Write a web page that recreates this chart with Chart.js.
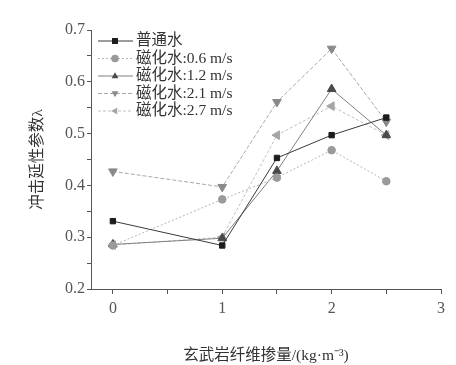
<!DOCTYPE html>
<html>
<head>
<meta charset="utf-8">
<script src="https://cdn.jsdelivr.net/npm/chart.js@4/dist/chart.umd.min.js"></script>
<style>
  html, body { margin: 0; padding: 0; background: #fff; }
  #box { width: 456px; height: 365px; }
</style>
</head>
<body>
<div id="box"><canvas id="chart" width="456" height="365"></canvas></div>
<script>
// dosage of basalt fibre (kg/m3)
const dosage = [0, 1, 1.5, 2, 2.5];
const seriesNames = ["普通水", "磁化水:0.6 m/s", "磁化水:1.2 m/s", "磁化水:2.1 m/s", "磁化水:2.7 m/s"];
const plainWater = [0.331, 0.284, 0.453, 0.497, 0.531];
const mag06 = [0.284, 0.373, 0.415, 0.468, 0.408];
const mag12 = [0.286, 0.298, 0.428, 0.586, 0.497];
const mag21 = [0.427, 0.397, 0.561, 0.664, 0.523];
const mag27 = [0.285, 0.300, 0.497, 0.553, 0.497];
const xTicks = [0, 0.5, 1, 1.5, 2, 2.5, 3];
const yTicks = [0.2, 0.25, 0.3, 0.35, 0.4, 0.45, 0.5, 0.55, 0.6, 0.65, 0.7];

const serif = "'Liberation Serif', 'Noto Sans CJK SC', serif";

function pts(values) {
    return values.map((v, i) => ({ x: dosage[i], y: v }));
}

const styles = [
    { line: "#3a3a3a", mark: "#1c1c1c", point: "rect", rot: 0, dash: [], r: 3.8 },
    { line: "#b5b5b5", mark: "#9a9a9a", point: "circle", rot: 0, dash: [2, 2], r: 3.8 },
    { line: "#808080", mark: "#4a4a4a", point: "triangle", rot: 0, dash: [], r: 5 },
    { line: "#a8a8a8", mark: "#8a8a8a", point: "triangle", rot: 180, dash: [4, 2], r: 5 },
    { line: "#c0c0c0", mark: "#a5a5a5", point: "triangle", rot: -90, dash: [3, 2], r: 5 }
];
const allValues = [plainWater, mag06, mag12, mag21, mag27];

const datasets = allValues.map((vals, i) => ({
    label: seriesNames[i],
    data: pts(vals),
    borderColor: styles[i].line,
    borderWidth: 1,
    borderDash: styles[i].dash,
    pointStyle: styles[i].point,
    pointRotation: styles[i].rot,
    pointRadius: styles[i].r,
    pointBackgroundColor: styles[i].mark,
    pointBorderColor: styles[i].mark,
    pointBorderWidth: 1,
    tension: 0
}));

// legend drawn inside the plot, line + marker + label
function drawMarker(ctx, kind, rot, x, y, r) {
    ctx.save();
    ctx.translate(x, y);
    ctx.rotate(rot * Math.PI / 180);
    ctx.beginPath();
    if (kind === "rect") {
        ctx.rect(-r, -r, 2 * r, 2 * r);
    } else if (kind === "circle") {
        ctx.arc(0, 0, r, 0, Math.PI * 2);
    } else {
        ctx.moveTo(0, -r);
        ctx.lineTo(r * 0.9, r * 0.6);
        ctx.lineTo(-r * 0.9, r * 0.6);
        ctx.closePath();
    }
    ctx.fill();
    ctx.restore();
}

const insideLegend = {
    id: "insideLegend",
    afterDraw(chart) {
        const ctx = chart.ctx;
        const x0 = 98, x1 = 133, xm = 115, tx = 136;
        ctx.save();
        ctx.font = "15.5px " + serif;
        ctx.textBaseline = "middle";
        chart.data.datasets.forEach((ds, i) => {
            const y = 41 + i * 17.5;
            ctx.strokeStyle = ds.borderColor;
            ctx.lineWidth = 1;
            ctx.setLineDash(ds.borderDash);
            ctx.beginPath();
            ctx.moveTo(x0, y);
            ctx.lineTo(x1, y);
            ctx.stroke();
            ctx.setLineDash([]);
            ctx.fillStyle = ds.pointBackgroundColor;
            drawMarker(ctx, ds.pointStyle, ds.pointRotation, xm, y, ds.pointStyle === "rect" ? 3 : 3.8);
            ctx.fillStyle = "#333";
            ctx.fillText(ds.label, tx, y);
        });
        ctx.restore();
    }
};

const ctx = document.getElementById("chart").getContext("2d");
const chart = new Chart(ctx, {
    type: "line",
    data: { datasets },
    plugins: [insideLegend],
    options: {
        responsive: false,
        animation: false,
        devicePixelRatio: 1,
        layout: { padding: { top: 30, right: 15, bottom: 0, left: 0 } },
        plugins: {
            legend: { display: false },
            tooltip: { enabled: false }
        },
        scales: {
            x: {
                type: "linear",
                min: -0.2,
                max: 3,
                afterBuildTicks: (s) => { s.ticks = xTicks.map(v => ({ value: v })); },
                afterFit: (s) => { s.height = 76; },
                grid: { drawOnChartArea: false, drawTicks: true, tickLength: 5, tickColor: "#555" },
                border: { display: true, color: "#555", width: 1 },
                ticks: {
                    color: "#555",
                    font: { family: serif, size: 16 },
                    padding: 5,
                    maxRotation: 0,
                    autoSkip: false,
                    callback: (v) => Number.isInteger(v) ? String(v) : ""
                },
                title: {
                    display: true,
                    text: "玄武岩纤维掺量/(kg·m⁻³)",
                    color: "#333",
                    font: { family: serif, size: 15.5 },
                    padding: { top: 15, bottom: 0 }
                }
            },
            y: {
                min: 0.2,
                max: 0.7,
                afterBuildTicks: (s) => { s.ticks = yTicks.map(v => ({ value: v })); },
                afterFit: (s) => { s.width = 91; },
                grid: { drawOnChartArea: false, drawTicks: true, tickLength: 4, tickColor: "#555" },
                border: { display: true, color: "#555", width: 1 },
                ticks: {
                    color: "#555",
                    font: { family: serif, size: 16 },
                    padding: 2,
                    autoSkip: false,
                    callback: (v) => Math.abs(v * 10 - Math.round(v * 10)) < 1e-6 ? v.toFixed(1) : ""
                },
                title: {
                    display: true,
                    text: "冲击延性参数λ",
                    color: "#333",
                    font: { family: serif, size: 15.5 },
                    padding: { top: 29, bottom: 0 }
                }
            }
        }
    }
});
</script>
</body>
</html>
